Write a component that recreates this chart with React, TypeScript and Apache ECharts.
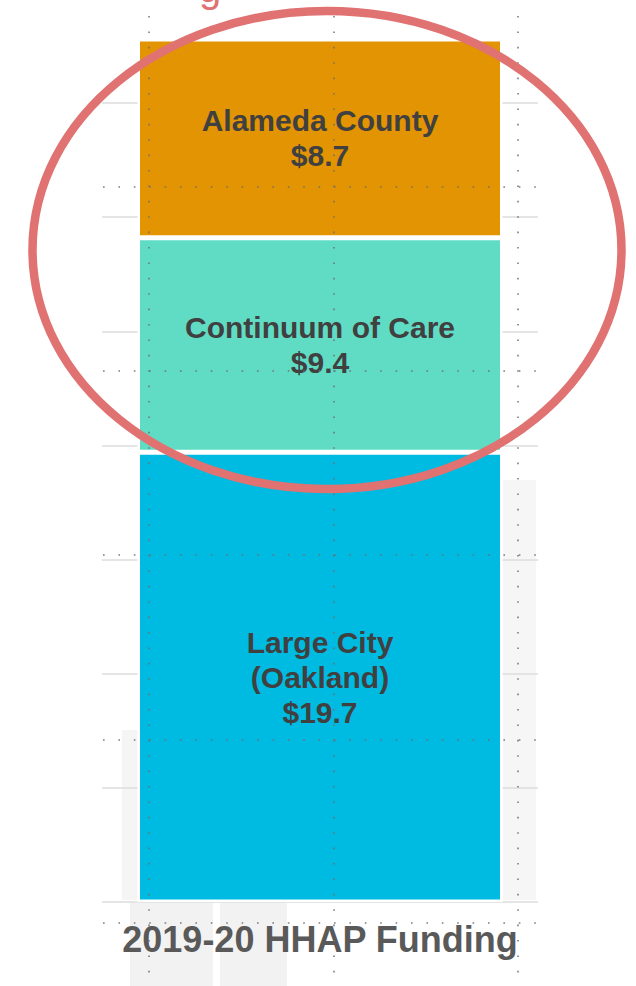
import React, { useEffect, useRef } from "react";
import * as echarts from "echarts";

const category = ["2019-20 HHAP Funding"];
const segmentNames = ["Large City\n(Oakland)", "Continuum of Care", "Alameda County"];
const segmentValues = [19.7, 9.4, 8.7];
const segmentColors = ["#00BBE1", "#60DCC4", "#E39402"];
const yMin = 0;
const yMax = 35;
const yInterval = 5;

const FONT = "'Liberation Sans', Arial, Helvetica, sans-serif";

export default function App() {
  const ref = useRef<HTMLDivElement>(null);

  useEffect(() => {
    if (!ref.current) return;
    const chart = echarts.init(ref.current, null, { renderer: "svg" });

    const dotStyle = { stroke: "#6f6f6f", lineWidth: 1.6, lineDash: [1.6, 13.8], opacity: 0.9 };
    const vDots = [149, 334, 518].map((x) => ({
      type: "line",
      z: 100,
      silent: true,
      shape: { x1: x, y1: 16, x2: x, y2: 986 },
      style: dotStyle,
    }));
    const hDots = [187, 371, 555, 740, 923].map((y) => ({
      type: "line",
      z: 100,
      silent: true,
      shape: { x1: 103, y1: y, x2: 540, y2: y },
      style: dotStyle,
    }));

    const watermark = [
      { x: 122, y: 730, w: 18, h: 170, c: "#f5f5f5" },
      { x: 130, y: 903, w: 83, h: 83, c: "#f2f2f2" },
      { x: 220, y: 903, w: 67, h: 83, c: "#f2f2f2" },
      { x: 503, y: 480, w: 33, h: 420, c: "#f6f6f6" },
    ].map((r) => ({
      type: "rect",
      z: -1,
      silent: true,
      shape: { x: r.x, y: r.y, width: r.w, height: r.h },
      style: { fill: r.c },
    }));

    chart.setOption({
      animation: false,
      grid: { left: 102, right: 98, top: 103, bottom: 84, containLabel: false },
      xAxis: {
        type: "category",
        data: category,
        axisLine: { show: false },
        axisTick: { show: false },
        axisLabel: {
          margin: 19,
          fontFamily: FONT,
          fontSize: 36,
          fontWeight: "bold",
          color: "#595959",
        },
      },
      yAxis: {
        type: "value",
        min: yMin,
        max: yMax,
        interval: yInterval,
        axisLabel: { show: false },
        axisLine: { show: false },
        axisTick: { show: false },
        splitLine: { lineStyle: { color: "#dcdcdc", width: 1.5 } },
      },
      series: segmentNames.map((name, i) => ({
        type: "bar",
        name,
        stack: "total",
        clip: false,
        barWidth: 365,
        data: [segmentValues[i]],
        itemStyle: { color: segmentColors[i], borderColor: "#ffffff", borderWidth: 2.5 },
        label: {
          show: true,
          position: "inside",
          formatter: (p: any) => `${name}\n$${Number(p.value).toFixed(1)}`,
          fontFamily: FONT,
          fontSize: 30,
          lineHeight: 35,
          fontWeight: "bold",
          color: "#404040",
        },
      })),
      graphic: [
        ...watermark,
        ...vDots,
        ...hDots,
        {
          type: "ellipse",
          z: 110,
          silent: true,
          shape: { cx: 327, cy: 250, rx: 294.5, ry: 239 },
          style: { fill: "none", stroke: "#E07272", lineWidth: 8.5 },
        },
        {
          type: "text",
          z: 110,
          silent: true,
          style: {
            x: 199,
            y: 8,
            text: "g",
            fill: "#E07272",
            fontFamily: FONT,
            fontSize: 40,
            verticalAlign: "bottom",
          },
        },
      ],
    });

    return () => chart.dispose();
  }, []);

  return (
    <div
      ref={ref}
      style={{ position: "fixed", left: 0, top: 0, width: 636, height: 986, background: "#ffffff" }}
    />
  );
}
